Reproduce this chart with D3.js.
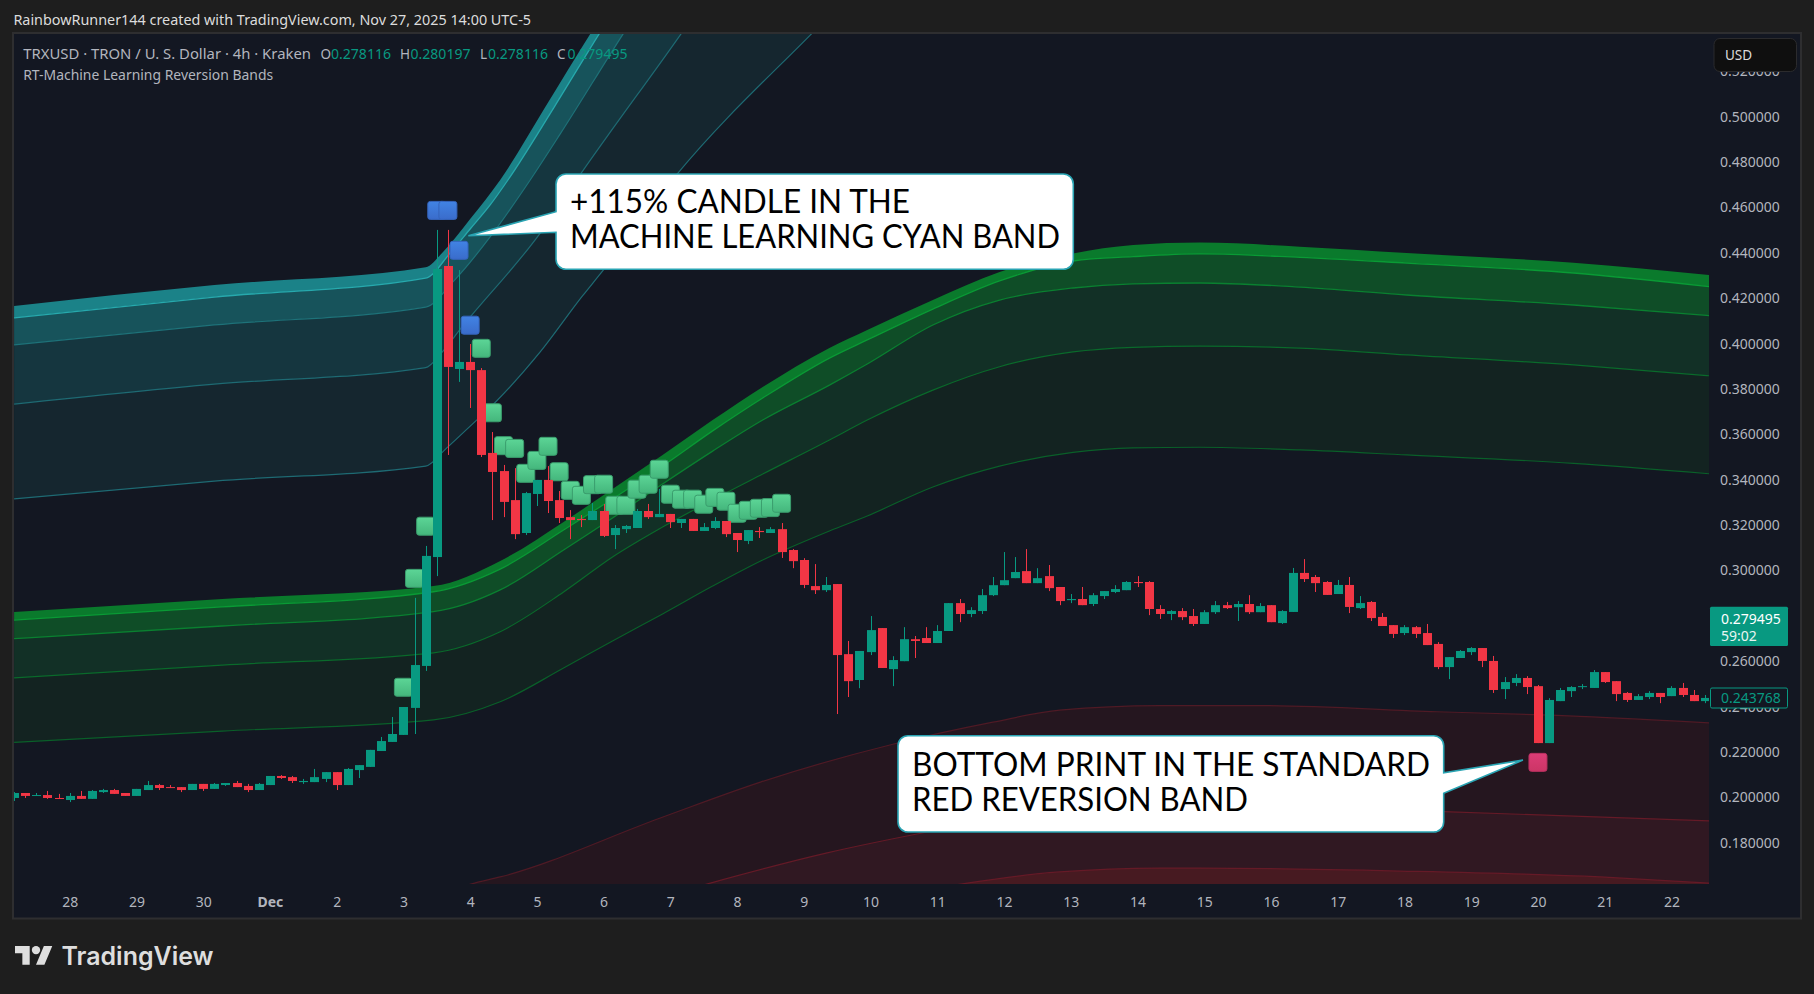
<!DOCTYPE html>
<html><head><meta charset="utf-8">
<script src="https://d3js.org/d3.v7.min.js"></script>
<style>html,body{margin:0;padding:0;background:#1e1e1e;overflow:hidden}svg{display:block}text{font-family:"Noto Sans",sans-serif}</style>
</head><body><svg id="c" width="1814" height="994"></svg>
<script>
// ---- candles (4h TRX/USD) ----
const opens=[.1997,.2019,.2006,.2010,.1997,.1988,.2006,.1993,.2023,.2032,
.2019,.2006,.2032,.2054,.2045,.2045,.2032,.2059,.2037,.2054,
.2063,.2050,.2032,.2054,.2094,.2089,.2067,.2067,.2081,.2111,
.2054,.2120,.2134,.2204,.2244,.2275,.2394,.2579,.3059,.4342,
.3888,.3919,.3883,.3518,.3438,.3310,.3165,.3337,.3399,.3310,
.3235,.3227,.3222,.3262,.3156,.3182,.3187,.3262,.3235,.3249,
.3209,.3227,.3174,.3187,.3218,.3165,.3130,.3174,.3165,.3182,
.3090,.3046,.2931,.2913,.2940,.2631,.2517,.2640,.2746,.2565,
.2600,.2697,.2702,.2680,.2733,.2856,.2808,.2821,.2891,.2935,
.2966,.2997,.2944,.2975,.2927,.2869,.2874,.2852,.2887,.2905,
.2913,.2949,.2949,.2830,.2808,.2821,.2799,.2764,.2816,.2847,
.2838,.2852,.2816,.2847,.2768,.2817,.2989,.2971,.2949,.2896,
.2936,.2834,.2861,.2795,.2759,.2724,.2750,.2724,.2676,.2574,
.2614,.2640,.2658,.2601,.2477,.2504,.2526,.2490,.2239,.2424,
.2468,.2486,.2482,.2552,.2512,.2460,.2429,.2442,.2460,.2446,
.2482,.2451,.2424];
const highs=[.2023,.2019,.2019,.2028,.2015,.2019,.2028,.2032,.2037,.2037,
.2019,.2037,.2072,.2059,.2054,.2045,.2059,.2059,.2063,.2063,
.2072,.2059,.2063,.2094,.2098,.2094,.2081,.2125,.2111,.2111,
.2129,.2142,.2209,.2266,.2354,.2398,.2879,.3108,.4501,.4501,
.4324,.3998,.3892,.3610,.3465,.3451,.3346,.3399,.3460,.3350,
.3266,.3244,.3297,.3293,.3200,.3200,.3271,.3293,.3359,.3249,
.3227,.3227,.3209,.3235,.3218,.3165,.3178,.3191,.3191,.3209,
.3094,.3054,.3028,.2971,.2940,.2689,.2645,.2799,.2746,.2622,
.2750,.2711,.2750,.2759,.2856,.2874,.2838,.2918,.2971,.3081,
.3059,.3094,.3010,.3024,.2927,.2896,.2927,.2900,.2909,.2935,
.2953,.2975,.2953,.2847,.2825,.2834,.2830,.2825,.2865,.2861,
.2865,.2891,.2856,.2847,.2825,.3011,.3050,.2980,.2953,.2958,
.2971,.2887,.2865,.2812,.2759,.2759,.2755,.2764,.2684,.2618,
.2649,.2662,.2658,.2623,.2530,.2543,.2534,.2495,.2437,.2482,
.2490,.2499,.2561,.2552,.2512,.2464,.2455,.2468,.2460,.2490,
.2504,.2473,.2451];
const lows=[.1984,.1997,.2006,.1993,.1993,.1979,.1993,.1993,.2019,.2015,
.2006,.2006,.2032,.2032,.2041,.2023,.2032,.2028,.2037,.2050,
.2045,.2023,.2032,.2054,.2081,.2063,.2059,.2067,.2067,.2032,
.2054,.2085,.2134,.2204,.2244,.2275,.2279,.2557,.2975,.3509,
.3831,.3716,.3500,.3222,.3235,.3138,.3156,.3284,.3253,.3209,
.3138,.3191,.3222,.3147,.3094,.3165,.3187,.3227,.3235,.3187,
.3187,.3174,.3174,.3182,.3147,.3081,.3116,.3143,.3165,.3055,
.3010,.2922,.2896,.2905,.2367,.2442,.2481,.2627,.2570,.2490,
.2600,.2614,.2680,.2680,.2733,.2772,.2794,.2808,.2887,.2935,
.2966,.2944,.2944,.2909,.2847,.2856,.2847,.2843,.2874,.2900,
.2913,.2927,.2803,.2786,.2781,.2781,.2755,.2764,.2808,.2830,
.2777,.2808,.2816,.2772,.2764,.2817,.2949,.2905,.2892,.2896,
.2812,.2830,.2777,.2755,.2702,.2715,.2702,.2671,.2565,.2521,
.2614,.2627,.2574,.2460,.2433,.2490,.2455,.2239,.2239,.2424,
.2442,.2477,.2482,.2504,.2424,.2420,.2429,.2433,.2415,.2446,
.2442,.2424,.2415];
const closes=[.2019,.2006,.2010,.1997,.1993,.2006,.1993,.2028,.2032,.2015,
.2006,.2037,.2054,.2041,.2041,.2032,.2059,.2037,.2059,.2063,
.2045,.2032,.2059,.2094,.2085,.2072,.2072,.2089,.2111,.2054,
.2125,.2142,.2209,.2248,.2279,.2398,.2583,.3064,.4329,.3897,
.3919,.3883,.3509,.3434,.3302,.3160,.3341,.3399,.3306,.3231,
.3222,.3222,.3262,.3152,.3187,.3196,.3262,.3235,.3249,.3213,
.3227,.3174,.3191,.3218,.3160,.3134,.3178,.3169,.3182,.3081,
.3041,.2936,.2913,.2936,.2627,.2512,.2645,.2737,.2570,.2605,
.2697,.2689,.2680,.2733,.2856,.2808,.2825,.2891,.2935,.2957,
.2993,.2944,.2966,.2922,.2865,.2874,.2847,.2891,.2909,.2918,
.2949,.2944,.2830,.2808,.2821,.2794,.2764,.2816,.2847,.2834,
.2852,.2816,.2843,.2772,.2821,.2989,.2962,.2944,.2892,.2936,
.2839,.2856,.2790,.2755,.2720,.2750,.2720,.2671,.2574,.2618,
.2645,.2658,.2601,.2473,.2508,.2526,.2486,.2239,.2429,.2473,
.2486,.2490,.2552,.2508,.2455,.2429,.2446,.2460,.2442,.2482,
.2451,.2424,.2438];

// ---- cyan machine-learning band (candle index, price) ----
const cyan0X=[0,18,37,38.56,41,43.7,47.7,51.8,54.5];
const cyan0=[.4166,.4258,.4336,.4404,.4549,.4721,.5038,.5365,.5567];
const cyan1X=[0,18,37,39.2,41,42.8,44.4,48.5,52.6,55.4];
const cyan1=[.4113,.4205,.4288,.4399,.4505,.4611,.4721,.5038,.5365,.5580];
const cyan2X=[0,18,37,39.6,42.8,46.4,49.1,54.7,57.2];
const cyan2=[.3994,.4082,.4161,.4280,.4470,.4721,.4924,.5361,.5550];
const cyan3X=[0,18,37,38.4,40.2,47.3,51,59.9,62.1];
const cyan3=[.3733,.3821,.3894,.3958,.4069,.4487,.4752,.5361,.5515];
const cyan4X=[0,18,37,38.9,41.2,43.2,47.3,51.1,52.7,59.6,71.6,75.2];
const cyan4=[.3315,.3394,.3460,.3540,.3645,.3738,.3963,.4210,.4307,.4747,.5361,.5537];

// ---- green band ----
const greenX=[0,18.7,37.7,43.7,49.4,53.8,58.3,62.8,67.3,73.3,76.7,82.6,88.6,95.2,100.6,106.6,115.6,125.2,140.2,152.4];
const green0=[.2817,.2874,.2931,.3042,.3214,.3359,.3509,.3663,.3809,.3981,.4060,.4192,.4315,.4397,.4434,.4445,.4427,.4399,.4356,.4302];
const green1=[.2781,.2839,.2906,.3006,.3178,.3315,.3460,.3615,.3760,.3936,.4016,.4152,.4276,.4364,.4383,.4395,.4380,.4355,.4311,.4251];
const green2=[.2699,.2755,.2818,.2914,.3090,.3231,.3381,.3526,.3663,.3817,.3910,.4082,.4192,.4245,.4263,.4267,.4249,.4214,.4170,.4123];
const green3=[.2526,.2583,.2637,.2730,.2905,.3059,.3191,.3311,.3425,.3575,.3663,.3795,.3898,.3963,.3983,.3989,.3980,.3950,.3906,.3858];
const green4=[.2242,.2292,.2341,.2421,.2570,.2689,.2808,.2931,.3046,.3174,.3240,.3368,.3460,.3520,.3540,.3543,.3531,.3509,.3472,.3426];

// ---- red band ----
const red0X=[38.3,41.4,43.7,58.1,67.1,79,88,94,103,112,127.9,137.4,152.4];
const red0=[.1578,.1622,.1649,.1909,.2067,.2234,.2331,.2384,.2404,.2404,.2377,.2363,.2328];
const red1X=[57.2,62.6,73.1,82.1,92.2,104.8,115.6,128.5,152.4];
const red1=[.1547,.1622,.1755,.1847,.1935,.1971,.1962,.1937,.1896];
const red2X=[79.6,85.7,94,103,106.6,124.6,142.6,152.4];
const red2=[.1570,.1622,.1671,.1688,.1688,.1675,.1649,.1622];

// ---- signal squares ----
const blueX=[38,39,40,41];
const blueP=[.4587,.4587,.4411,.4081];
const mintX=[35,36,37,42,43,44,45,46,47,48,49,50,51,52,53,54,55,56,57,58,59,60,61,62,63,64,65,66,67,68,69];
const mintP=[.2485,.2965,.3195,.3979,.3695,.3550,.3538,.3428,.3485,.3547,.3435,.3353,.3331,.3378,.3380,.3287,.3287,.3358,.3380,.3446,.3336,.3314,.3314,.3292,.3322,.3305,.3252,.3265,.3274,.3277,.3296];
const pinkX=[137];
const pinkP=[.2154];

// ---- axes ----
const priceTicks=[.18,.20,.22,.24,.26,.30,.32,.34,.36,.38,.40,.42,.44,.46,.48,.50,.52];
const dayIndex=[5,11,17,23,29,35,41,47,53,59,65,71,77,83,89,95,101,107,113,119,125,131,137,143,149];
const dayLabels=["28","29","30","Dec","2","3","4","5","6","7","8","9","10","11","12","13","14","15","16","17","18","19","20","21","22"];
const lastOHLC=["0.278116","0.280197","0.278116","0.279495"];
const calloutOne=["+115% CANDLE IN THE","MACHINE LEARNING CYAN BAND"];
const calloutTwo=["BOTTOM PRINT IN THE STANDARD","RED REVERSION BAND"];

// ---- drawing ----
const UP="#089981",DOWN="#f23645",BG="#131722",AXT="#b2b5be";
const svg=d3.select("#c");
const x=d3.scaleLinear().domain([0,152]).range([14.1,1704.8]);
const y=d3.scaleLinear().domain([.5,.2]).range([116.7,797.3]);
const pane={l:14,t:34,r:1709,b:884};

svg.append("rect").attr("width",1814).attr("height",994).attr("fill","#1e1e1e");
svg.append("rect").attr("x",13).attr("y",33).attr("width",1788).attr("height",885.5).attr("fill",BG).attr("stroke","#2e2e30").attr("stroke-width",2);
const defs=svg.append("defs");
defs.append("clipPath").attr("id","pane").append("rect").attr("x",pane.l).attr("y",pane.t).attr("width",pane.r-pane.l).attr("height",pane.b-pane.t);
function grad(id,a,b){const g=defs.append("linearGradient").attr("id",id).attr("x1",0).attr("x2",0).attr("y1",0).attr("y2",1);
 g.append("stop").attr("offset",0).attr("stop-color",a);g.append("stop").attr("offset",1).attr("stop-color",b);}
grad("gMint","#5cd596","#44b67c");grad("gBlue","#4183e4","#3a6ccb");grad("gPink","#dc3d76","#cc3566");

const zip=(a,b)=>a.map((v,k)=>[v,b[k]]);
const lineGen=d3.line().x(d=>x(d[0])).y(d=>y(d[1])).curve(d3.curveMonotoneX);
const ribbon=(a,b)=>lineGen(a)+lineGen(b.slice().reverse()).replace(/^M/,"L")+"Z";
const plot=svg.append("g").attr("clip-path","url(#pane)");
function band(curves,fills,strokes,widths){
 for(let k=0;k<fills.length;k++)plot.append("path").attr("d",ribbon(curves[k],curves[k+1])).attr("fill",fills[k]);
 curves.forEach((c,k)=>{if(strokes[k])plot.append("path").attr("d",lineGen(c)).attr("fill","none").attr("stroke",strokes[k]).attr("stroke-width",widths[k]);});
}
const r2=zip(red2X,red2);
band([zip(red0X,red0),zip(red1X,red1),r2],["#25161f","#301822"],["#4f1a25","#651a27",null],[1.2,1.2,0]);
plot.append("path").attr("d",d3.area().x(d=>x(d[0])).y1(d=>y(d[1])).y0(pane.b+20).curve(d3.curveMonotoneX)(r2)).attr("fill","#471a21");
plot.append("path").attr("d",lineGen(r2)).attr("fill","none").attr("stroke","#651a27").attr("stroke-width",1.2);
band([green0,green1,green2,green3,green4].map(v=>zip(greenX,v)),["#0a7a2c","#0f4d27","#123026","#132321"],[null,"#0a9a35","#0a8030","#0a6a2b","#0a5f29"],[0,1.3,1.3,1.2,1.2]);
band([zip(cyan0X,cyan0),zip(cyan1X,cyan1),zip(cyan2X,cyan2),zip(cyan3X,cyan3),zip(cyan4X,cyan4)],["#1b8288","#17535b","#15363f","#15262f"],[null,"#27a9ad","#1e7279","#1e6a73","#1e6a73"],[0,1.3,1.2,1.2,1.2]);

function squares(xs,ps,fill,edge){
 plot.append("g").selectAll("rect").data(zip(xs,ps)).join("rect")
  .attr("x",d=>x(d[0])-9).attr("y",d=>y(d[1])-9).attr("width",18).attr("height",18).attr("rx",2.5)
  .attr("fill",fill).attr("stroke",edge).attr("stroke-width",1);
}
squares(mintX,mintP,"url(#gMint)","#3a9d6d");
squares(blueX,blueP,"url(#gBlue)","#3564bb");
squares(pinkX,pinkP,"url(#gPink)","#b93060");

const candles=opens.map((o,i)=>({i,o,h:highs[i],l:lows[i],c:closes[i]}));
const cg=plot.append("g");
cg.selectAll("line").data(candles).join("line")
 .attr("x1",d=>Math.round(x(d.i))+.5).attr("x2",d=>Math.round(x(d.i))+.5)
 .attr("y1",d=>y(d.h)).attr("y2",d=>y(d.l)).attr("stroke",d=>d.c>=d.o?UP:DOWN).attr("stroke-width",1);
cg.selectAll("rect").data(candles).join("rect")
 .attr("x",d=>Math.round(x(d.i))-4).attr("width",9)
 .attr("y",d=>y(Math.max(d.o,d.c))).attr("height",d=>Math.max(1,Math.abs(y(d.o)-y(d.c))))
 .attr("fill",d=>d.c>=d.o?UP:DOWN);

// callouts
function callout(b,tip,lines,ys,widths){
 const p=d3.path(),r=10;
 const tx=x(tip[0]),ty=y(tip[1]);
 p.moveTo(b.l+r,b.t);p.lineTo(b.r-r,b.t);p.arcTo(b.r,b.t,b.r,b.t+r,r);
 if(tx>b.r){p.lineTo(b.r,b.p0);p.lineTo(tx,ty);p.lineTo(b.r,b.p1);}
 p.lineTo(b.r,b.b-r);p.arcTo(b.r,b.b,b.r-r,b.b,r);p.lineTo(b.l+r,b.b);p.arcTo(b.l,b.b,b.l,b.b-r,r);
 if(tx<b.l){p.lineTo(b.l,b.p1);p.lineTo(tx,ty);p.lineTo(b.l,b.p0);}
 p.lineTo(b.l,b.t+r);p.arcTo(b.l,b.t,b.l+r,b.t,r);p.closePath();
 svg.append("path").attr("d",p.toString()).attr("fill","#fff").attr("stroke","#29a4b3").attr("stroke-width",1.6);
 lines.forEach((s,k)=>svg.append("text").text(s).attr("x",b.l+14).attr("y",ys[k]).attr("fill","#000")
  .attr("textLength",widths[k]).attr("lengthAdjust","spacingAndGlyphs")
  .style("font-family","Lato,sans-serif").style("font-size","33px"));
}
callout({l:556,t:174,r:1073.3,b:269.3,p0:211.7,p1:232.3},[40.84,.4475],calloutOne,[213.3,248.3],[340,490]);
callout({l:898,t:735.7,r:1443.7,b:832,p0:772.7,p1:793.3},[135.65,.2164],calloutTwo,[776,810.7],[518,336]);

// price axis
const ax=svg.append("g").attr("transform","translate(1720,0)").call(d3.axisRight(y).tickValues(priceTicks).tickFormat(d3.format(".6f")).tickSize(0).tickPadding(0));
ax.select(".domain").remove();
ax.selectAll("text").attr("fill",AXT).style("font-family",'"Noto Sans",sans-serif').style("font-size","14px");
// time axis
const tx=svg.append("g").attr("transform","translate(0,897)").call(d3.axisBottom(x).tickValues(dayIndex).tickFormat((d,k)=>dayLabels[k]).tickSize(0).tickPadding(0));
tx.select(".domain").remove();
tx.selectAll("text").attr("fill",AXT).style("font-family",'"Noto Sans",sans-serif').style("font-size","14px")
 .style("font-weight",(d,k)=>dayLabels[k]==="Dec"?"700":"400");

// USD box
svg.append("rect").attr("x",1714).attr("y",38.5).attr("width",82.5).attr("height",33).attr("rx",6).attr("fill","#0f0f0f").attr("stroke","#2b2b2d");
svg.append("text").text("USD").attr("x",1725).attr("y",59.5).attr("fill","#dbdbdb").style("font-size","13.5px");
// price labels
svg.append("rect").attr("x",1710).attr("y",606.7).attr("width",78).attr("height",39.3).attr("rx",1.5).attr("fill",UP);
svg.append("text").text(lastOHLC[3]).attr("x",1721).attr("y",623.5).attr("fill","#fff").style("font-size","14px");
svg.append("text").text("59:02").attr("x",1721).attr("y",641).attr("fill","#e8f5f2").style("font-size","14px");
svg.append("rect").attr("x",1710.5).attr("y",y(.243768)-10).attr("width",77).attr("height",20).attr("rx",1.5).attr("fill",BG).attr("stroke",UP);
svg.append("text").text("0.243768").attr("x",1721).attr("y",y(.243768)+5).attr("fill",UP).style("font-size","14px");

// legend & header
const leg=(s,xp,yp,f,w)=>svg.append("text").text(s).attr("x",xp).attr("y",yp).attr("fill",f).style("font-size","13.5px").attr("textLength",w||null).attr("lengthAdjust","spacingAndGlyphs");
leg("RainbowRunner144 created with TradingView.com, Nov 27, 2025 14:00 UTC-5",13.4,25,"#dcdcdc",517.6);
leg("TRXUSD · TRON / U. S. Dollar · 4h · Kraken",23.2,59,AXT,287.8);
leg("RT-Machine Learning Reversion Bands",23.2,80,AXT,250);
[["O",320.5,331],["H",400,410.5],["L",480,488],["C",557,567.5]].forEach((a,k)=>{
 leg(a[0],a[1],59,AXT);leg(lastOHLC[k],a[2],59,UP,60);
});
// logo
const lg=svg.append("g").attr("transform","translate(15,941.7) scale(1.05)").attr("fill","#dedede");
lg.append("path").attr("d","M14 22H7V11H0V4h14v18zM28 22h-8l7.5-18h8L28 22z");
lg.append("circle").attr("cx",20).attr("cy",8).attr("r",4);
svg.append("text").text("TradingView").attr("x",61.5).attr("y",965).attr("fill","#dedede").attr("textLength",152).attr("lengthAdjust","spacingAndGlyphs")
 .style("font-family","Inter,sans-serif").style("font-weight","600").style("font-size","25px");
</script></body></html>
